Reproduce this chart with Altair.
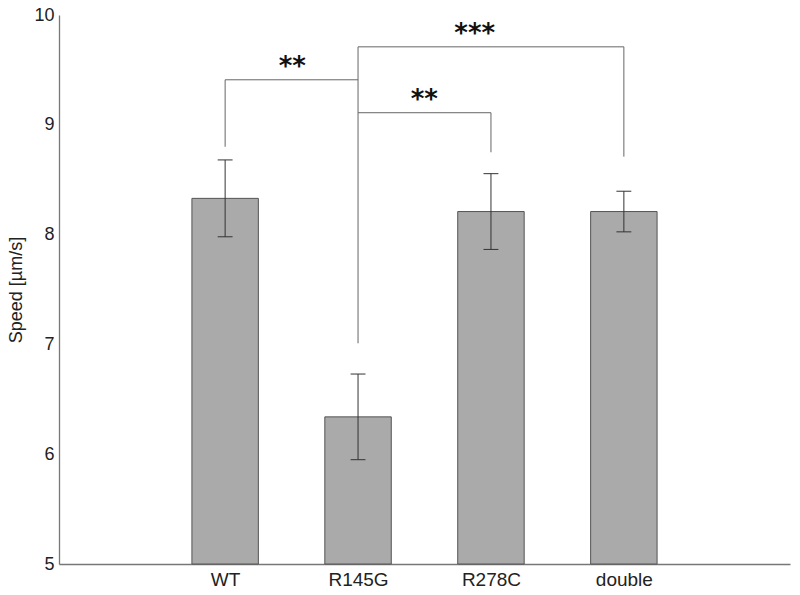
import altair as alt
import pandas as pd

categories = ["WT", "R145G", "R278C", "double"]
positions = [1, 2, 3, 4]
means = [8.33, 6.34, 8.21, 8.21]
errors = [0.35, 0.39, 0.345, 0.185]

# significance brackets (data coordinates)
seg_x1 = [1, 1, 2, 2, 2, 2, 3, 4]
seg_y1 = [8.80, 9.41, 9.71, 9.71, 9.11, 7.01, 9.11, 9.71]
seg_x2 = [1, 2, 4, 2, 3, 2, 3, 4]
seg_y2 = [9.41, 9.41, 9.71, 7.01, 9.11, 7.01, 8.75, 8.71]

star_labels = ["**", "**", "***"]
star_x = [1.505, 2.498, 2.878]
star_y = [9.45, 9.155, 9.75]

FONT = "Liberation Sans"

bars_df = pd.DataFrame({"cat": categories, "pos": positions, "mean": means, "err": errors})
seg_df = pd.DataFrame({"x1": seg_x1, "y1": seg_y1, "x2": seg_x2, "y2": seg_y2})
star_df = pd.DataFrame({"label": star_labels, "x": star_x, "y": star_y})

xscale = alt.Scale(domain=[-0.25, 5.25], nice=False, zero=False)
yscale = alt.Scale(domain=[5, 10], nice=False, zero=False)

base = alt.Chart(bars_df).transform_calculate(
    left="datum.pos - 0.25",
    right="datum.pos + 0.25",
    lo="datum.mean - datum.err",
    hi="datum.mean + datum.err",
    capl="datum.pos - 0.056",
    capr="datum.pos + 0.056",
)

xaxis = alt.Axis(
    values=positions,
    labelExpr="['', 'WT', 'R145G', 'R278C', 'double'][datum.value]",
    ticks=False, grid=False, domainColor="#777777", domainWidth=1.3,
    labelFont=FONT, labelFontSize=19, labelColor="#222222", labelPadding=6,
    title=None,
)
yaxis = alt.Axis(
    values=[5, 6, 7, 8, 9, 10], format="d", ticks=False, grid=False,
    domainColor="#777777", domainWidth=1.3,
    labelFont=FONT, labelFontSize=18, labelColor="#222222", labelPadding=5,
    title="Speed [µm/s]", titleFont=FONT, titleFontSize=18, titleFontWeight="normal",
    titleColor="#222222", titlePadding=8,
)

bars = base.mark_bar(color="#aaaaaa", stroke="#555555", strokeWidth=1).encode(
    x=alt.X("left:Q", scale=xscale, axis=xaxis),
    x2="right:Q",
    y=alt.Y("mean:Q", scale=yscale, axis=yaxis),
    y2=alt.datum(5),
)

err = base.mark_rule(color="#333333", strokeWidth=1).encode(
    x="pos:Q", y="lo:Q", y2="hi:Q"
)
cap_hi = base.mark_rule(color="#333333", strokeWidth=1).encode(
    x="capl:Q", x2="capr:Q", y="hi:Q"
)
cap_lo = base.mark_rule(color="#333333", strokeWidth=1).encode(
    x="capl:Q", x2="capr:Q", y="lo:Q"
)

segs = alt.Chart(seg_df).mark_rule(color="#666666", strokeWidth=1).encode(
    x="x1:Q", y="y1:Q", x2="x2:Q", y2="y2:Q"
)

stars = alt.Chart(star_df).mark_text(
    font="DejaVu Sans", fontSize=26, fontWeight="bold", color="#111111",
    baseline="alphabetic", align="center"
).encode(x="x:Q", y="y:Q", text="label:N")

chart = alt.layer(bars, err, cap_hi, cap_lo, segs, stars).properties(
    width=731, height=549,
    autosize=alt.AutoSizeParams(type="none"),
    padding={"left": 51, "top": 7, "right": 2, "bottom": 27},
).configure(background="white").configure_view(stroke=None)

chart.save("out.html", embed_options={"renderer": "svg", "actions": False})
